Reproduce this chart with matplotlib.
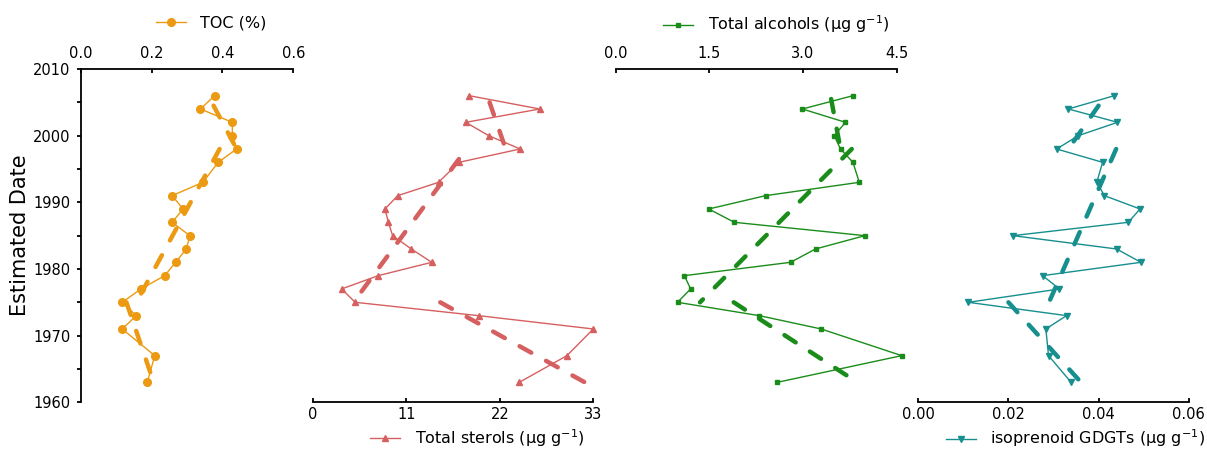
import matplotlib.pyplot as plt

plt.rcParams['font.family'] = 'DejaVu Sans'

# sample years (same depth intervals for all four proxies)
years = [2006, 2004, 2002, 2000, 1998, 1996, 1993, 1991, 1989, 1987,
         1985, 1983, 1981, 1979, 1977, 1975, 1973, 1971, 1967, 1963]

toc = [0.378, 0.338, 0.428, 0.428, 0.44, 0.388, 0.345, 0.258, 0.289, 0.258,
       0.308, 0.298, 0.268, 0.237, 0.170, 0.117, 0.157, 0.117, 0.209, 0.188]
sterols = [18.4, 26.7, 18.0, 20.7, 24.4, 17.2, 14.8, 10.0, 8.5, 8.9,
           9.4, 11.6, 14.0, 7.7, 3.4, 5.0, 19.5, 33.0, 29.9, 24.3]
alcohols = [3.80, 2.99, 3.68, 3.50, 3.60, 3.80, 3.90, 2.40, 1.49, 1.90,
            3.99, 3.20, 2.80, 1.10, 1.20, 0.99, 2.30, 3.29, 4.58, 2.59]
gdgts = [0.0435, 0.0333, 0.0442, 0.0355, 0.0307, 0.0409, 0.0396, 0.0413, 0.0492, 0.0466,
         0.0210, 0.0440, 0.0494, 0.0276, 0.0313, 0.0111, 0.0329, 0.0283, 0.0289, 0.0339]

# piecewise trend lines (start year, end year) and values at those years
toc_trend_years = [(2004.5, 1998), (1998, 1975), (1975, 1963)]
toc_trend = [(0.375, 0.44), (0.392, 0.157), (0.129, 0.206)]
sterol_trend_years = [(2005, 1998), (1996.5, 1975), (1975, 1963)]
sterol_trend = [(20.8, 22.7), (17.2, 4.8), (15.0, 32.0)]
alcohol_trend_years = [(2005.5, 1998), (1998, 1975), (1975, 1963)]
alcohol_trend = [(3.45, 3.60), (3.78, 1.35), (1.89, 3.87)]
gdgt_trend_years = [(2004.5, 1998), (1998, 1975), (1975, 1963)]
gdgt_trend = [(0.0400, 0.0333), (0.0439, 0.0290), (0.0200, 0.0361)]

toc_ticks = [0.0, 0.2, 0.4, 0.6]
sterol_ticks = [0, 11, 22, 33]
alcohol_ticks = [0.0, 1.5, 3.0, 4.5]
gdgt_ticks = [0.00, 0.02, 0.04, 0.06]

W, H = 1207, 450
fig = plt.figure(figsize=(W / 100, H / 100), dpi=100)
unit = ' (μg g$^{-1}$)'


def panel(left, width, vals, tr_years, tr_vals, ticks, fmt, color, marker, ms,
          label, side, leg_xy):
    ax = fig.add_axes([left / W, (H - 402.3) / H, width / W, 333.3 / H])
    ax.plot(vals, years, color=color, lw=1, marker=marker, ms=ms,
            label=label, clip_on=False)
    for (y0, y1), (v0, v1) in zip(tr_years, tr_vals):
        ax.plot([v0, v1], [y0, y1], color=color, lw=3.2, dashes=(3, 3.8),
                dash_capstyle='round', clip_on=False)
    ax.set_xlim(ticks[0], ticks[-1])
    ax.set_ylim(1960, 2010)
    ax.set_xticks(ticks)
    ax.set_xticklabels([fmt.format(t) for t in ticks])
    for s in ax.spines.values():
        s.set_visible(False)
    if side == 'top':
        ax.xaxis.tick_top()
        ax.spines['top'].set_visible(True)
        ax.spines['top'].set_linewidth(1.3)
        ax.tick_params(axis='x', pad=6)
    else:
        ax.spines['bottom'].set_visible(True)
        ax.spines['bottom'].set_linewidth(1.3)
        ax.tick_params(axis='x', pad=3.5)
    ax.tick_params(axis='x', direction='in', length=3, width=1.3, labelsize=10.5)
    ax.set_yticks([])
    ax.legend(loc='center left', bbox_to_anchor=leg_xy, frameon=False,
              borderpad=0, borderaxespad=0, handlelength=1.9,
              handletextpad=0.9, fontsize=11.5)
    return ax


ax1 = panel(80.7, 212.6, toc, toc_trend_years, toc_trend, toc_ticks, '{:.1f}',
            '#EC9A12', 'o', 5.5, 'TOC (%)', 'top', (0.353, 1.139))
panel(312.7, 280.6, sterols, sterol_trend_years, sterol_trend, sterol_ticks, '{:d}',
      '#D65F5F', '^', 4, 'Total sterols' + unit, 'bottom', (0.204, -0.107))
panel(615.7, 281, alcohols, alcohol_trend_years, alcohol_trend, alcohol_ticks, '{:.1f}',
      '#1A8C1A', 's', 3.5, 'Total alcohols' + unit, 'top', (0.168, 1.134))
panel(918.3, 270.4, gdgts, gdgt_trend_years, gdgt_trend, gdgt_ticks, '{:.2f}',
      '#178F8F', 'v', 5, 'isoprenoid GDGTs' + unit, 'bottom', (0.101, -0.108))

ax1.spines['left'].set_visible(True)
ax1.spines['left'].set_linewidth(1.3)
ax1.set_yticks(range(1960, 2011, 5))
ax1.set_yticklabels([str(y) if y % 10 == 0 else '' for y in range(1960, 2011, 5)])
ax1.tick_params(axis='y', direction='out', length=3.2, width=1.3, pad=4, labelsize=10.5)
ax1.set_ylabel('Estimated Date', fontsize=15, labelpad=2)

fig.savefig('out.png', dpi=100)
